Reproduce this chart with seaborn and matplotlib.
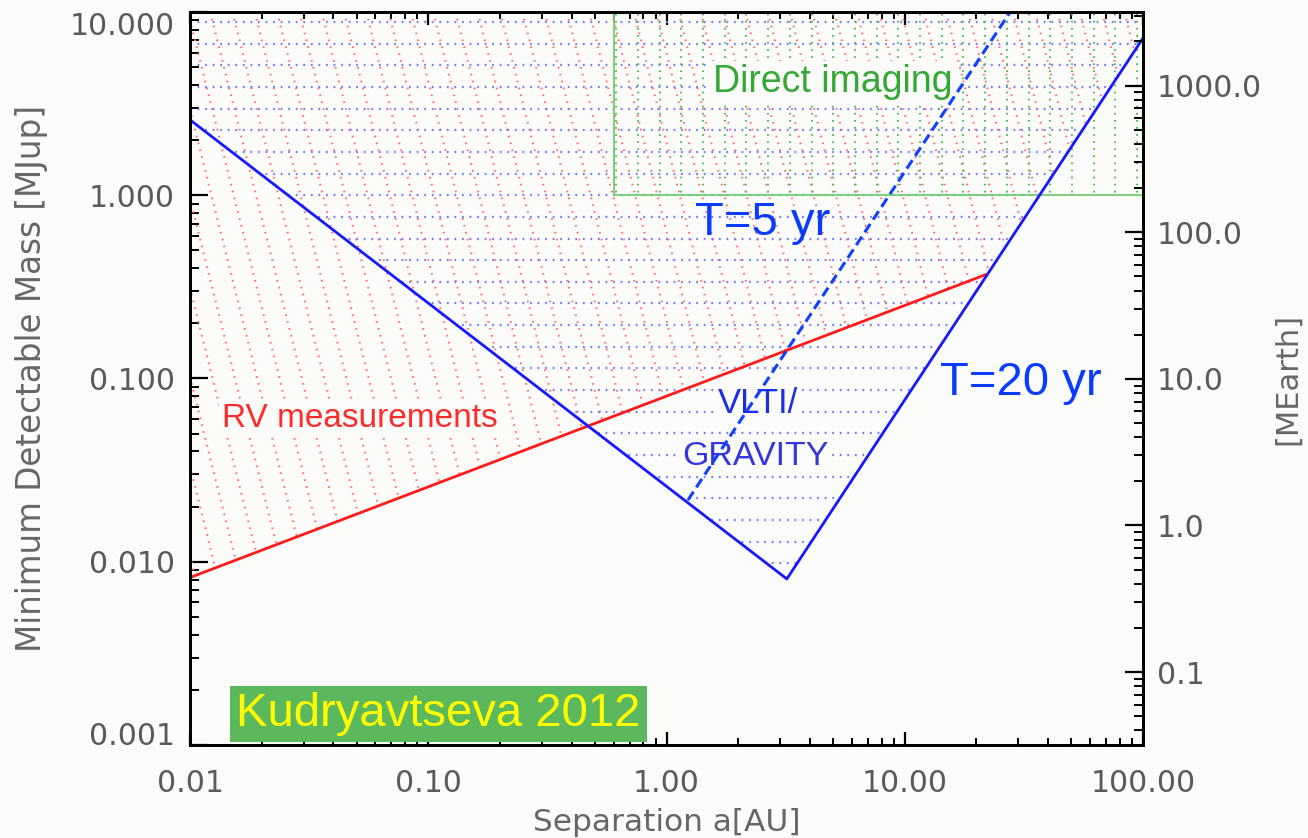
import numpy as np
import pandas as pd
import matplotlib
matplotlib.use("Agg")
import matplotlib.pyplot as plt
import seaborn as sns
from matplotlib.collections import LineCollection
from matplotlib.patches import Polygon
from matplotlib.ticker import FixedLocator, FixedFormatter, LogLocator, NullFormatter

# ---------------- data ----------------
rv_sep = [0.01, 22.0]
rv_mass = [0.0082, 0.37]

gravity20_sep = [0.01, 3.2, 100.0]
gravity20_mass = [2.58, 0.00806, 7.2]

gravity5_sep = [1.23, 27.7]
gravity5_mass = [0.0217, 10.0]

di_sep = [0.6, 0.6, 100.0]
di_mass = [10.0, 1.0, 1.0]

sep_ticks = [0.01, 0.1, 1.0, 10.0, 100.0]
sep_tick_labels = ["0.01", "0.10", "1.00", "10.00", "100.00"]
mass_ticks = [0.001, 0.01, 0.1, 1.0, 10.0]
mass_tick_labels = ["0.001", "0.010", "0.100", "1.000", "10.000"]
earth_ticks = [0.1, 1.0, 10.0, 100.0, 1000.0]
earth_tick_labels = ["0.1", "1.0", "10.0", "100.0", "1000.0"]

xlim = (0.01, 100.0)
ylim = (0.001, 10.0)
ylim_earth = (0.0318, 3178.0)

# ---------------- style ----------------
sns.set_theme(style="ticks")
plt.rcParams["font.family"] = ["DejaVu Sans"]
BG = "#fbfcfa"
TICKC = "#5a5a5a"
LABC = "#666666"

W, H = 1308, 838
fig = plt.figure(figsize=(W / 100, H / 100), dpi=100, facecolor=BG)
L, R, T, B = 190, 1143, 12, 745
ax = fig.add_axes([L / W, (H - B) / H, (R - L) / W, (B - T) / H])
ax.set_facecolor(BG)
ax.set_xscale("log")
ax.set_yscale("log")
ax.set_xlim(*xlim)
ax.set_ylim(*ylim)

# ---------------- dotted hatching, clipped to regions ----------------
def region(xs, ys):
    p = Polygon(np.column_stack([xs, ys]), closed=True, transform=ax.transData,
                fill=False, edgecolor="none", lw=0)
    ax.add_patch(p)
    return p

red_reg = region(rv_sep + [gravity20_sep[2], xlim[1], xlim[0]],
                 rv_mass + [gravity20_mass[2], ylim[1], ylim[1]])
blue_reg = region(gravity20_sep + [xlim[1], xlim[0]],
                  gravity20_mass + [ylim[1], ylim[1]])
green_reg = region([di_sep[1], di_sep[2], di_sep[2], di_sep[1]],
                   [di_mass[1], di_mass[2], di_mass[0], di_mass[0]])

axw, axh = R - L, B - T
dot_style = (0, (0.8, 2.6))

# red diagonal lines
dx = 0.25 * axh / axw
offs = np.arange(-0.4, 1.1, 22.3 / axw)
segs = [[(c, 1.0), (c + dx, 0.0)] for c in offs]
lc = LineCollection(segs, transform=ax.transAxes, colors="#ff7070",
                    linewidths=1.5, linestyles=[dot_style], zorder=1)
lc.set_clip_path(red_reg)
ax.add_collection(lc)

# blue horizontal lines
ys = 0.75 + np.arange(-30, 10) * (21.65 / axh)
segs = [[(0.0, y), (1.0, y)] for y in ys]
lc = LineCollection(segs, transform=ax.transAxes, colors="#7878ff",
                    linewidths=1.6, linestyles=[dot_style], zorder=1)
lc.set_clip_path(blue_reg)
ax.add_collection(lc)

# green vertical lines
xs = (1137 - L) / axw - np.arange(0, 30) * (21.7 / axw)
segs = [[(x, 0.0), (x, 1.0)] for x in xs]
lc = LineCollection(segs, transform=ax.transAxes, colors="#55bb55",
                    linewidths=1.5, linestyles=[dot_style], zorder=1)
lc.set_clip_path(green_reg)
ax.add_collection(lc)

# ---------------- lines ----------------
sns.lineplot(x=di_sep, y=di_mass, ax=ax, color="#6fcf6f", lw=1.3,
             estimator=None, sort=False, zorder=2)
sns.lineplot(x=rv_sep, y=rv_mass, ax=ax, color="#ff1a1a", lw=2.0,
             estimator=None, sort=False, zorder=4)
sns.lineplot(x=gravity20_sep, y=gravity20_mass, ax=ax, color="#1818ff", lw=2.0,
             estimator=None, sort=False, zorder=4)
sns.lineplot(x=gravity5_sep, y=gravity5_mass, ax=ax, color="#1040ff", lw=2.2,
             estimator=None, sort=False, zorder=4)
ax.lines[-1].set_dashes([3.3, 1.7])

# ---------------- annotations ----------------
TF = ["Liberation Sans", "DejaVu Sans"]
def fx(px):
    return (px - L) / axw
def fy(py):
    return (B - py) / axh

box = dict(boxstyle="square,pad=0.08", facecolor=BG, edgecolor="none")
ax.text(fx(713), fy(92), "Direct imaging", transform=ax.transAxes, family=TF,
        fontsize=27, color="#34a834", va="baseline", ha="left", bbox=box, zorder=3)
ax.text(fx(695), fy(235), "T=5 yr", transform=ax.transAxes, family=TF,
        fontsize=34, color="#0a3cff", va="baseline", ha="left", zorder=3)
ax.text(fx(940), fy(395), "T=20 yr", transform=ax.transAxes, family=TF,
        fontsize=34, color="#0a3cff", va="baseline", ha="left", zorder=3)
ax.text(fx(222), fy(426.7), "RV measurements", transform=ax.transAxes, family=TF,
        fontsize=24, color="#ff2a2a", va="baseline", ha="left", bbox=box, zorder=3)
ax.text(fx(718), fy(413), "VLTI/", transform=ax.transAxes, family=TF,
        fontsize=25, color="#1a2ee8", va="baseline", ha="left", bbox=box, zorder=3)
ax.text(fx(682), fy(465), "GRAVITY", transform=ax.transAxes, family=TF,
        fontsize=24.5, color="#3535dd", va="baseline", ha="left", bbox=box, zorder=3)
ax.text(fx(236), fy(726), "Kudryavtseva 2012", transform=ax.transAxes, family=TF,
        fontsize=34, color="#ffff00", va="baseline", ha="left", zorder=5,
        bbox=dict(boxstyle="square,pad=0.13", facecolor="#5cb85c", edgecolor="none"))

# ---------------- axes / ticks ----------------
ax.xaxis.set_major_locator(FixedLocator(sep_ticks))
ax.xaxis.set_major_formatter(FixedFormatter(sep_tick_labels))
ax.xaxis.set_minor_locator(LogLocator(base=10, subs=np.arange(2, 10)))
ax.xaxis.set_minor_formatter(NullFormatter())
ax.yaxis.set_major_locator(FixedLocator(mass_ticks))
ax.yaxis.set_major_formatter(FixedFormatter(mass_tick_labels))
ax.yaxis.set_minor_locator(LogLocator(base=10, subs=np.arange(2, 10)))
ax.yaxis.set_minor_formatter(NullFormatter())

ax.tick_params(axis="x", which="major", direction="in", length=9.4, width=1.6,
               top=True, bottom=True, labeltop=False, pad=17, labelsize=21.5,
               labelcolor=TICKC, color="black")
ax.tick_params(axis="x", which="minor", direction="in", length=4.7, width=1.4,
               top=True, bottom=True, color="black")
ax.tick_params(axis="y", which="major", direction="in", length=13, width=1.6,
               left=True, right=False, pad=10.8, labelsize=21.5,
               labelcolor=TICKC, color="black")
ax.tick_params(axis="y", which="minor", direction="in", length=6.5, width=1.4,
               left=True, right=False, color="black")

for s in ax.spines.values():
    s.set_visible(True)
    s.set_linewidth(2.0)
    s.set_color("black")

ax.set_xlabel("Separation a[AU]", fontsize=22.5, color=LABC)
ax.set_ylabel("Minimum Detectable Mass [MJup]", fontsize=23.5, color=LABC)
ax.xaxis.set_label_coords(0.5, fy(822))
ax.xaxis.label.set_va("center")
ax.yaxis.set_label_coords(fx(32), 0.5)
ax.yaxis.label.set_va("center")

ax2 = ax.twinx()
ax2.set_yscale("log")
ax2.set_ylim(*ylim_earth)
ax2.yaxis.set_major_locator(FixedLocator(earth_ticks))
ax2.yaxis.set_major_formatter(FixedFormatter(earth_tick_labels))
ax2.yaxis.set_minor_locator(LogLocator(base=10, subs=np.arange(2, 10)))
ax2.yaxis.set_minor_formatter(NullFormatter())
ax2.tick_params(axis="y", which="major", direction="in", length=13, width=1.6,
                right=True, left=False, pad=10, labelsize=21.5,
                labelcolor=TICKC, color="black")
ax2.tick_params(axis="y", which="minor", direction="in", length=6.5, width=1.4,
                right=True, left=False, color="black")
for s in ax2.spines.values():
    s.set_linewidth(2.0)
    s.set_color("black")
ax2.set_ylabel("[MEarth]", fontsize=22, color=LABC)
ax2.yaxis.set_label_coords(fx(1288), 0.5)
ax2.yaxis.label.set_va("center")

labs = ax.get_yticklabels()
labs[-1].set_va("top")
labs[0].set_va("baseline")

fig.savefig("out.png", dpi=100, facecolor=BG)
